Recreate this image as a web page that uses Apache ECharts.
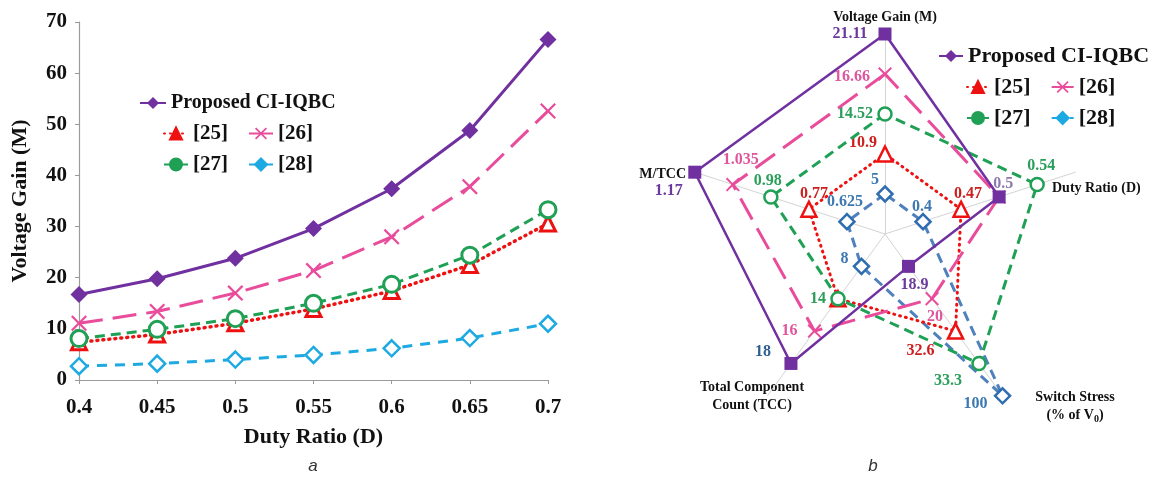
<!DOCTYPE html>
<html><head><meta charset="utf-8">
<script src="https://cdn.jsdelivr.net/npm/echarts@6/dist/echarts.min.js"></script>
<style>html,body{margin:0;padding:0;background:#fff}#c{width:1156px;height:477px}</style>
</head><body><div id="c"></div>
<script>
// ---------- data: panel a ----------
const dutyRatios = ['0.4', '0.45', '0.5', '0.55', '0.6', '0.65', '0.7'];
const seriesNames = ['Proposed CI-IQBC', '[25]', '[26]', '[27]', '[28]'];
const gainProposed = [16.7, 19.8, 23.8, 29.6, 37.4, 48.8, 66.6];
const gain25 = [7.4, 8.9, 11.1, 13.9, 17.4, 22.5, 30.6];
const gain26 = [11.1, 13.4, 17.0, 21.4, 28.0, 37.8, 52.6];
const gain27 = [8.1, 9.9, 12.0, 15.0, 18.7, 24.4, 33.3];
const gain28 = [2.7, 3.2, 4.0, 4.9, 6.2, 8.2, 11.0];
const yMin = 0, yMax = 70, yStep = 10;

// ---------- data: panel b (radar, rank scores 1..5 as drawn, real values as labels) ----------
const radarAxes = ['Voltage Gain (M)', 'M/TCC', 'Total Component Count (TCC)', 'Switch Stress (% of V0)', 'Duty Ratio (D)'];
const radarMax = 5;
const rankProposed = [5, 5, 4, 1, 3];
const rank25 = [2, 2, 2, 3, 2];
const rank26 = [4, 4, 3, 2, 3];
const rank27 = [3, 3, 2, 4, 4];
const rank28 = [1, 1, 1, 5, 1];
const textProposed = ['21.11', '1.17', '18', '18.9', '0.5'];
const text25 = ['10.9', '0.77', '', '32.6', '0.47'];
const text26 = ['16.66', '1.035', '16', '20', ''];
const text27 = ['14.52', '0.98', '14', '33.3', '0.54'];
const text28 = ['5', '0.625', '8', '100', '0.4'];

// ---------- styles ----------
const SERIF = "'Liberation Serif','Times New Roman',serif";
const C = {
  prop: '#7030A0', r25: '#EE1111', r26: '#E84C9B', r27: '#1FA055', r28: '#1DA9E2',
  r28b: '#4F81BD', r28m: '#2E6DAF'
};
const xPath = 'path://M1,0 L5,4 L9,0 L10,1 L6,5 L10,9 L9,10 L5,6 L1,10 L0,9 L4,5 L0,1 Z';
// label shift per radar vertex [dx, dy] (pixels, relative to the vertex)
const labelShift = {
  'Proposed CI-IQBC': [[-35, 0], [-26, 19], [-28, -12], [6, 18], [4, -13]],
  '[25]': [[-22, -11], [5, -15], [0, 0], [-35, 20], [7, -15]],
  '[26]': [[-33, 3], [8, -25], [-25, 0], [3, 18], [0, 0]],
  '[27]': [[-30, 0], [-3, -16], [-20, 0], [-31, 17], [4, -19]],
  '[28]': [[-10, -14], [-2, -20], [-17, -8], [-27, 8], [-1, -15]]
};
const labelColor = {
  'Proposed CI-IQBC': ['#6A3A9C', '#6A3A9C', '#2F5F8F', '#6A3A9C', '#8A7AAA'],
  '[25]': '#CC2020', '[26]': '#DF569C', '[27]': '#2A9E5A', '[28]': '#3D78B2'
};

function richFor(name) {
  const rich = {};
  labelShift[name].forEach(function (s, i) {
    const dx = s[0], dy = s[1];
    const col = Array.isArray(labelColor[name]) ? labelColor[name][i] : labelColor[name];
    rich['d' + i] = {
      color: col, fontSize: 16, fontWeight: 'bold', fontFamily: SERIF,
      padding: [Math.max(0, 2 * dy), Math.max(0, -2 * dx), Math.max(0, -2 * dy), Math.max(0, 2 * dx)]
    };
  });
  return rich;
}
function radarItem(name, ranks, texts, sty) {
  return {
    type: 'radar', name: name, z: sty.z, silent: true,
    data: [{
      name: name, value: ranks,
      symbol: sty.symbol, symbolSize: sty.symbolSize,
      itemStyle: sty.itemStyle, lineStyle: sty.lineStyle,
      label: {
        show: true, position: 'inside', rich: richFor(name),
        formatter: function (p) {
          const i = p.dimensionIndex;
          const t = texts[i];
          return t ? '{d' + i + '|' + t + '}' : '';
        }
      }
    }]
  };
}
function lineSeries(name, data, sty) {
  return {
    type: 'line', name: name, data: data, z: sty.z,
    symbol: sty.symbol, symbolSize: sty.symbolSize,
    itemStyle: sty.itemStyle, lineStyle: sty.lineStyle
  };
}

const legendText = { fontFamily: SERIF, fontWeight: 'bold', color: '#111' };
function legendData(names) {
  const fill = { 'Proposed CI-IQBC': C.prop, '[25]': C.r25, '[26]': C.r26, '[27]': C.r27, '[28]': C.r28 };
  return names.map(function (n) { return { name: n, itemStyle: { color: fill[n], borderColor: fill[n] } }; });
}
function legend(names, left, top, size, iw) {
  return {
    data: legendData(names), left: left, top: top, itemWidth: iw, itemHeight: 15, itemGap: 20,
    textStyle: Object.assign({ fontSize: size }, legendText), selectedMode: false, padding: 0
  };
}

const RCX = 885, RCY = 234, RR = 200;
const axisNameStyle = { fontFamily: SERIF, fontWeight: 'bold', fontSize: 14, fill: '#111' };
function gtext(text, x, y, align, extra) {
  return { type: 'text', x: x, y: y, silent: true,
    style: Object.assign({ text: text, textAlign: align, textVerticalAlign: 'middle' }, axisNameStyle, extra || {}) };
}

const chart = echarts.init(document.getElementById('c'), null, { renderer: 'canvas' });
chart.setOption({
  animation: false,
  backgroundColor: '#fff',
  grid: { left: 79, right: 608, top: 22, bottom: 97 },
  xAxis: {
    type: 'category', data: dutyRatios, boundaryGap: false,
    name: 'Duty Ratio (D)', nameLocation: 'middle', nameGap: 46,
    nameTextStyle: { fontFamily: SERIF, fontWeight: 'bold', fontSize: 22, color: '#111' },
    axisLine: { lineStyle: { color: '#9a9a9a', width: 1.2 } },
    axisTick: { show: true, length: 4, lineStyle: { color: '#9a9a9a' } },
    axisLabel: { fontFamily: SERIF, fontWeight: 'bold', fontSize: 21, color: '#111', margin: 17 }
  },
  yAxis: {
    type: 'value', min: yMin, max: yMax, interval: yStep,
    name: 'Voltage Gain (M)', nameLocation: 'middle', nameGap: 48, nameRotate: 90,
    nameTextStyle: { fontFamily: SERIF, fontWeight: 'bold', fontSize: 22, color: '#111' },
    axisLine: { show: true, lineStyle: { color: '#9a9a9a', width: 1.2 } },
    axisTick: { show: true, length: 4, lineStyle: { color: '#9a9a9a' } },
    splitLine: { show: false },
    axisLabel: { fontFamily: SERIF, fontWeight: 'bold', fontSize: 21, color: '#111', margin: 12 }
  },
  legend: [
    legend(['Proposed CI-IQBC'], 139, 93, 20, 26),
    legend(['[25]', '[26]'], 163, 123, 21, 24),
    legend(['[27]', '[28]'], 163, 154, 21, 24),
    legend(['Proposed CI-IQBC'], 938, 45, 22, 24),
    legend(['[25]', '[26]'], 966, 76, 22, 22),
    legend(['[27]', '[28]'], 966, 107, 22, 22)
  ],
  radar: {
    center: [RCX, RCY], radius: RR, startAngle: 90, splitNumber: 5,
    indicator: radarAxes.map(function (n) { return { name: n, min: 0, max: radarMax }; }),
    axisName: { show: false },
    axisLine: { lineStyle: { color: '#d4d4d4', width: 1 } },
    splitLine: { show: false }, splitArea: { show: false },
    axisTick: { show: false }, axisLabel: { show: false }
  },
  graphic: [
    gtext('Voltage Gain (M)', RCX, RCY - RR - 17, 'center'),
    gtext('M/TCC', RCX - 199, RCY - 60, 'right'),
    gtext('Total Component\nCount (TCC)', RCX - 133, RCY + 162, 'center', { lineHeight: 18 }),
    gtext('Switch Stress\n(% of V{sub|0})', RCX + 190, RCY + 172, 'center',
      { lineHeight: 18, rich: { sub: { fontFamily: SERIF, fontWeight: 'bold', fontSize: 10, verticalAlign: 'bottom', fill: '#111' } } }),
    gtext('Duty Ratio (D)', RCX + 167, RCY - 46, 'left'),
    { type: 'text', x: 313, y: 466, silent: true,
      style: { text: 'a', textAlign: 'center', textVerticalAlign: 'middle', fontFamily: "'Liberation Sans',Arial,sans-serif", fontStyle: 'italic', fontSize: 17, fill: '#333' } },
    { type: 'text', x: 873, y: 466, silent: true,
      style: { text: 'b', textAlign: 'center', textVerticalAlign: 'middle', fontFamily: "'Liberation Sans',Arial,sans-serif", fontStyle: 'italic', fontSize: 17, fill: '#333' } }
  ],
  series: [
    lineSeries('[28]', gain28, { z: 2, symbol: 'diamond', symbolSize: 16,
      itemStyle: { color: '#fff', borderColor: C.r28, borderWidth: 2.5 },
      lineStyle: { color: C.r28, width: 3, type: [10, 8] } }),
    lineSeries('[25]', gain25, { z: 3, symbol: 'triangle', symbolSize: 15,
      itemStyle: { color: '#fff', borderColor: C.r25, borderWidth: 3 },
      lineStyle: { color: C.r25, width: 3.5, type: [1, 5], cap: 'round' } }),
    lineSeries('[27]', gain27, { z: 4, symbol: 'circle', symbolSize: 16,
      itemStyle: { color: '#fff', borderColor: C.r27, borderWidth: 3 },
      lineStyle: { color: C.r27, width: 3, type: [10, 6] } }),
    lineSeries('[26]', gain26, { z: 5, symbol: xPath, symbolSize: 16,
      itemStyle: { color: C.r26 },
      lineStyle: { color: C.r26, width: 3, type: [24, 10] } }),
    lineSeries('Proposed CI-IQBC', gainProposed, { z: 6, symbol: 'diamond', symbolSize: 17,
      itemStyle: { color: C.prop },
      lineStyle: { color: C.prop, width: 3 } }),

    radarItem('[28]', rank28, text28, { z: 2, symbol: 'diamond', symbolSize: 15,
      itemStyle: { color: '#fff', borderColor: C.r28m, borderWidth: 2.5 },
      lineStyle: { color: C.r28b, width: 3, type: [10, 6] } }),
    radarItem('[25]', rank25, text25, { z: 3, symbol: 'triangle', symbolSize: 15,
      itemStyle: { color: '#fff', borderColor: C.r25, borderWidth: 2.5 },
      lineStyle: { color: C.r25, width: 3, type: [1, 5], cap: 'round' } }),
    radarItem('[27]', rank27, text27, { z: 4, symbol: 'circle', symbolSize: 13,
      itemStyle: { color: '#fff', borderColor: C.r27, borderWidth: 2.5 },
      lineStyle: { color: C.r27, width: 3, type: [10, 6] } }),
    radarItem('[26]', rank26, text26, { z: 5, symbol: xPath, symbolSize: 14,
      itemStyle: { color: C.r26 },
      lineStyle: { color: C.r26, width: 3, type: [24, 10] } }),
    radarItem('Proposed CI-IQBC', rankProposed, textProposed, { z: 6, symbol: 'rect', symbolSize: 13,
      itemStyle: { color: C.prop },
      lineStyle: { color: C.prop, width: 2.5 } })
  ]
});
</script></body></html>
